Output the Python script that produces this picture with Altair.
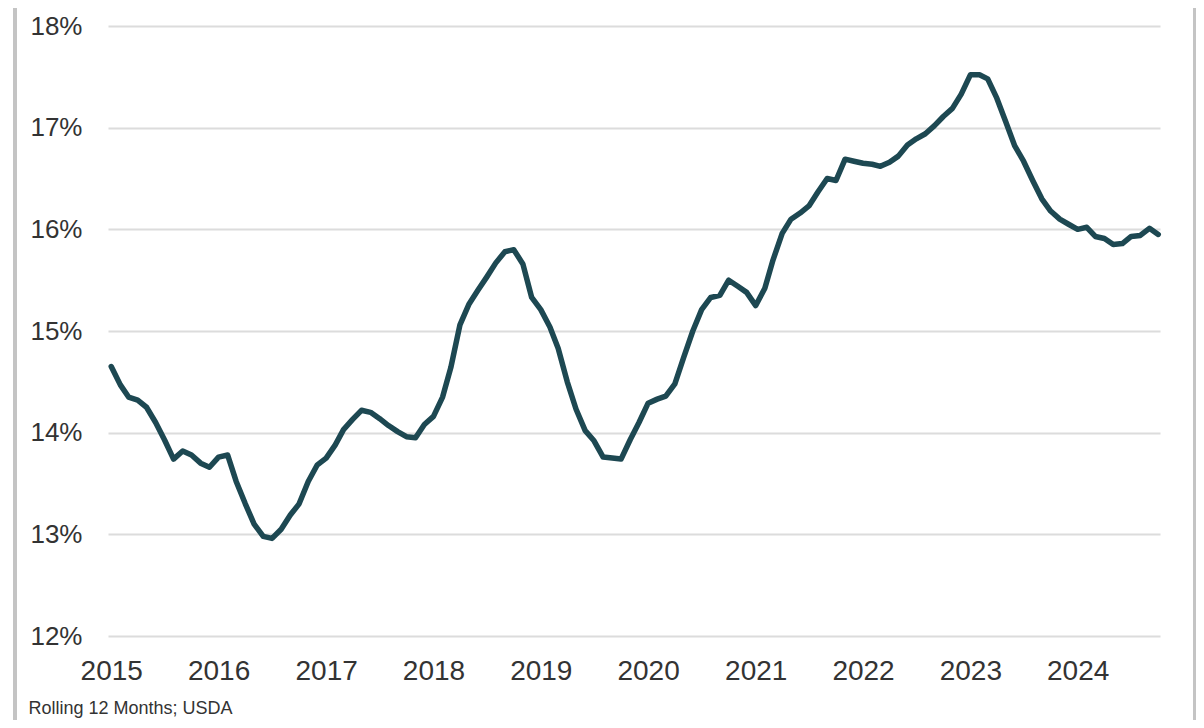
import altair as alt
import pandas as pd

# Monthly values, Jan 2015 .. Oct 2024 (percent, rolling 12 months)
VALUES = [
    14.65, 14.47, 14.35, 14.32, 14.25, 14.10, 13.93, 13.74, 13.82, 13.78, 13.70, 13.66,  # 2015
    13.76, 13.78, 13.52, 13.30, 13.10, 12.98, 12.96, 13.05, 13.19, 13.30, 13.52, 13.68,  # 2016
    13.75, 13.88, 14.03, 14.13, 14.22, 14.20, 14.14, 14.07, 14.01, 13.96, 13.95, 14.08,  # 2017
    14.16, 14.35, 14.64, 15.06, 15.26, 15.40, 15.53, 15.67, 15.78, 15.80, 15.66, 15.33,  # 2018
    15.21, 15.04, 14.83, 14.50, 14.23, 14.02, 13.92, 13.76, 13.75, 13.74, 13.93, 14.10,  # 2019
    14.29, 14.33, 14.36, 14.48, 14.74, 15.00, 15.21, 15.33, 15.35, 15.50, 15.44, 15.38,  # 2020
    15.25, 15.42, 15.70, 15.96, 16.10, 16.16, 16.23, 16.37, 16.50, 16.48, 16.69, 16.67,  # 2021
    16.65, 16.64, 16.62, 16.66, 16.72, 16.83, 16.89, 16.94, 17.02, 17.11, 17.19, 17.33,  # 2022
    17.52, 17.52, 17.48, 17.29, 17.06, 16.82, 16.67, 16.48, 16.30, 16.18, 16.10, 16.05,  # 2023
    16.00, 16.02, 15.93, 15.91, 15.85, 15.86, 15.93, 15.94, 16.01, 15.95,                # 2024
]
YEARS = list(range(2015, 2025))
Y_TICKS = [12, 13, 14, 15, 16, 17, 18]
NOTE = "Rolling 12 Months; USDA"

dates = pd.date_range("2015-01-01", periods=len(VALUES), freq="MS").strftime("%Y-%m-%d")
df = pd.DataFrame({"date": dates, "value": VALUES})

W, H = 1052, 610
LINE_COLOR = "#1d4852"
TEXT_COLOR = "#333333"

x_enc = alt.X(
    "date:T",
    scale=alt.Scale(
        type="utc",
        domain=[alt.DateTime(year=2014, month=12, date=21, utc=True),
                alt.DateTime(year=2024, month=10, date=7, utc=True)],
    ),
    axis=alt.Axis(
        values=[alt.DateTime(year=y, month=1, date=1, utc=True) for y in YEARS],
        format="%Y",
        grid=False,
        domain=False,
        ticks=False,
        labelFontSize=28,
        labelFont="Liberation Sans",
        labelColor=TEXT_COLOR,
        labelPadding=21,
        title=NOTE,
        titleFont="Liberation Sans",
        titleFontSize=18,
        titleFontWeight="normal",
        titleColor=TEXT_COLOR,
        titleAlign="left",
        titleBaseline="middle",
        titleX=-80,
        titleY=72,
    ),
)

y_enc = alt.Y(
    "value:Q",
    scale=alt.Scale(domain=[12, 18], nice=False, zero=False),
    axis=alt.Axis(
        values=Y_TICKS,
        labelExpr="datum.value + '%'",
        grid=True,
        gridColor="#dcdcdc",
        gridWidth=2,
        domain=False,
        ticks=False,
        labelFontSize=26,
        labelFont="Liberation Sans",
        labelColor=TEXT_COLOR,
        labelPadding=26,
        title=None,
    ),
)

line = alt.Chart(df).mark_line(
    color=LINE_COLOR, strokeWidth=5.5, strokeJoin="round", strokeCap="round"
).encode(x=x_enc, y=y_enc)

border_left = alt.Chart(df).mark_rule(color="#c4c4c4", strokeWidth=3).encode(
    x=alt.value(-93), y=alt.value(-18), y2=alt.value(H + 84)
)
border_right = alt.Chart(df).mark_rule(color="#c4c4c4", strokeWidth=3).encode(
    x=alt.value(1087), y=alt.value(-18), y2=alt.value(H + 84)
)

chart = (
    alt.layer(line, border_left, border_right)
    .properties(
        width=W,
        height=H,
        autosize=alt.AutoSizeParams(type="none"),
        padding={"left": 100, "top": 18, "right": 36, "bottom": 84},
        background="white",
    )
    .configure_view(stroke=None)
)

chart.save("out.html", embed_options={"renderer": "svg", "actions": False})
